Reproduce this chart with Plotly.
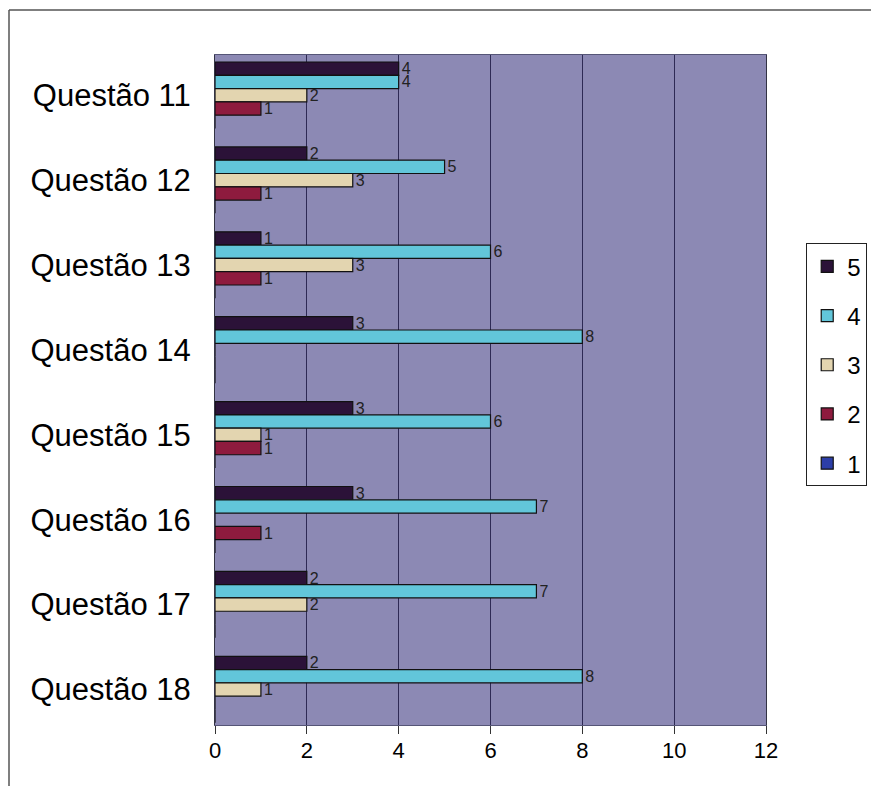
import plotly.graph_objects as go

categories = ["Questão 11", "Questão 12", "Questão 13", "Questão 14",
              "Questão 15", "Questão 16", "Questão 17", "Questão 18"]
series_names = ["5", "4", "3", "2", "1"]
s5 = [4, 2, 1, 3, 3, 3, 2, 2]
s4 = [4, 5, 6, 8, 6, 7, 7, 8]
s3 = [2, 3, 3, 0, 1, 0, 2, 1]
s2 = [1, 1, 1, 0, 1, 1, 0, 0]
s1 = [0, 0, 0, 0, 0, 0, 0, 0]
series_values = [s5, s4, s3, s2, s1]
colors = ["#2B1238", "#62C6DA", "#E3D5B0", "#8E1B3E", "#2C3EA8"]
x_ticks = [0, 2, 4, 6, 8, 10, 12]

fig = go.Figure()
for name, vals, col in zip(series_names, series_values, colors):
    fig.add_trace(go.Bar(
        y=categories, x=vals, name=name, orientation="h",
        marker=dict(color=col, line=dict(color="#111111", width=1.2)),
        text=[str(v) if v else "" for v in vals],
        textposition="outside", cliponaxis=False, constraintext="none",
        textfont=dict(family="Arial, Liberation Sans", size=16, color="#222222"),
        legendgroup=name,
    ))

fig.update_layout(
    width=871, height=786,
    margin=dict(l=215, r=105, t=55, b=61, autoexpand=False),
    paper_bgcolor="white",
    plot_bgcolor="#8C89B4",
    barmode="group", bargap=0.217, bargroupgap=0,
    font=dict(family="Arial, Liberation Sans", color="black"),
    legend=dict(
        x=1.073, y=0.719, xanchor="left", yanchor="top",
        bgcolor="white", bordercolor="#222222", borderwidth=1,
        font=dict(size=24, family="Arial, Liberation Sans"),
        tracegroupgap=15, itemwidth=30,
    ),
    showlegend=True,
)
fig.update_xaxes(
    range=[0, 12], tickmode="array", tickvals=x_ticks,
    ticktext=[str(t) for t in x_ticks],
    showgrid=True, gridcolor="#2E2A55", gridwidth=1,
    ticks="outside", ticklen=8, tickcolor="#333333",
    tickfont=dict(size=22, family="Arial, Liberation Sans", color="black"),
    ticklabelstandoff=-2,
    showline=True, linecolor="#555577",
    mirror=True, zeroline=False,
)
fig.update_yaxes(
    range=[7.418, -0.474], tickfont=dict(size=31),
    ticks="", ticklabelstandoff=17, showline=True, linecolor="#333344",
    mirror=True, showgrid=False,
)
# outer frame lines
fig.add_shape(type="line", xref="paper", yref="paper",
              x0=(9 - 215) / 551, x1=1.35, y0=(725 - 10) / 670, y1=(725 - 10) / 670,
              line=dict(color="#555555", width=1.5))
fig.add_shape(type="line", xref="paper", yref="paper",
              x0=(9 - 215) / 551, x1=(9 - 215) / 551, y0=(725 - 10) / 670, y1=(725 - 790) / 670,
              line=dict(color="#555555", width=1.5))

fig.write_html("out.html")
